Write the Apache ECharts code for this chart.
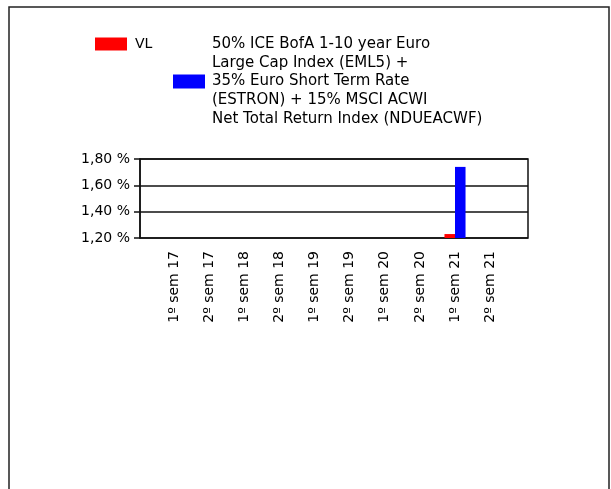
<!DOCTYPE html>
<html>
<head>
<meta charset="utf-8">
<script src="https://cdn.jsdelivr.net/npm/echarts@6/dist/echarts.min.js"></script>
<style>
html,body{margin:0;padding:0;background:#fff;}
#chart{width:611px;height:489px;}
</style>
</head>
<body>
<div id="chart"></div>
<script>
const categories = ['1º sem 17', '2º sem 17', '1º sem 18', '2º sem 18', '1º sem 19', '2º sem 19', '1º sem 20', '2º sem 20', '1º sem 21', '2º sem 21'];
const vlValues = [null, null, null, null, null, null, null, null, 1.23, null];
const benchValues = [null, null, null, null, null, null, null, null, 1.74, null];
const seriesNames = ['VL', '50% ICE BofA 1-10 year Euro\nLarge Cap Index (EML5) +\n35% Euro Short Term Rate\n(ESTRON) + 15% MSCI ACWI\nNet Total Return Index (NDUEACWF)'];
const yMin = 1.2, yMax = 1.8, yInterval = 0.2;

const font = 'DejaVu Sans';
const chart = echarts.init(document.getElementById('chart'));
chart.setOption({
  animation: false,
  backgroundColor: '#fff',
  graphic: [{
    type: 'rect',
    shape: { x: 9, y: 7, width: 600, height: 520 },
    style: { fill: 'none', stroke: '#222', lineWidth: 1.5 },
    silent: true
  }],
  legend: [{
    data: [seriesNames[0]],
    left: 95, top: 37, padding: 0,
    itemWidth: 32, itemHeight: 13,
    selectedMode: false,
    icon: 'rect',
    textStyle: { fontFamily: font, fontSize: 14, color: '#000', padding: [0, 0, 0, 3] }
  }, {
    data: [seriesNames[1]],
    left: 173, top: 34.5, padding: 0,
    itemWidth: 32, itemHeight: 14,
    selectedMode: false,
    icon: 'rect',
    textStyle: { fontFamily: font, fontSize: 15, lineHeight: 18.8, color: '#000', padding: [0, 0, 0, 2] }
  }],
  grid: [{
    left: 140, right: 83, top: 159, bottom: 251,
    show: true, borderColor: '#111', borderWidth: 1.5, backgroundColor: '#fff'
  }, {
    left: 156.65, right: 103.35, top: 159, bottom: 251
  }],
  xAxis: [{
    type: 'category', gridIndex: 0, data: categories, show: false
  }, {
    type: 'category', gridIndex: 1, data: categories,
    axisLine: { show: false }, axisTick: { show: false },
    axisLabel: { rotate: 90, margin: 13, interval: 0, fontFamily: font, fontSize: 14, color: '#000' }
  }],
  yAxis: [{
    type: 'value', gridIndex: 0, min: yMin, max: yMax, interval: yInterval,
    axisLine: { show: true, lineStyle: { color: '#111', width: 1.5 } },
    axisTick: { show: true, length: 6, lineStyle: { color: '#111', width: 1.5 } },
    splitLine: { show: true, lineStyle: { color: '#111', width: 1.5 } },
    axisLabel: { margin: 10, fontFamily: font, fontSize: 14, color: '#000',
      formatter: v => v.toFixed(2).replace('.', ',') + ' %' }
  }, {
    type: 'value', gridIndex: 1, min: yMin, max: yMax, interval: yInterval, show: false
  }],
  series: [{
    name: seriesNames[0], type: 'bar', xAxisIndex: 1, yAxisIndex: 1,
    data: vlValues, itemStyle: { color: '#ff0000' },
    barGap: '0%', barCategoryGap: '40%'
  }, {
    name: seriesNames[1], type: 'bar', xAxisIndex: 1, yAxisIndex: 1,
    data: benchValues, itemStyle: { color: '#0000ff' },
    barGap: '0%', barCategoryGap: '40%'
  }]
});
</script>
</body>
</html>
